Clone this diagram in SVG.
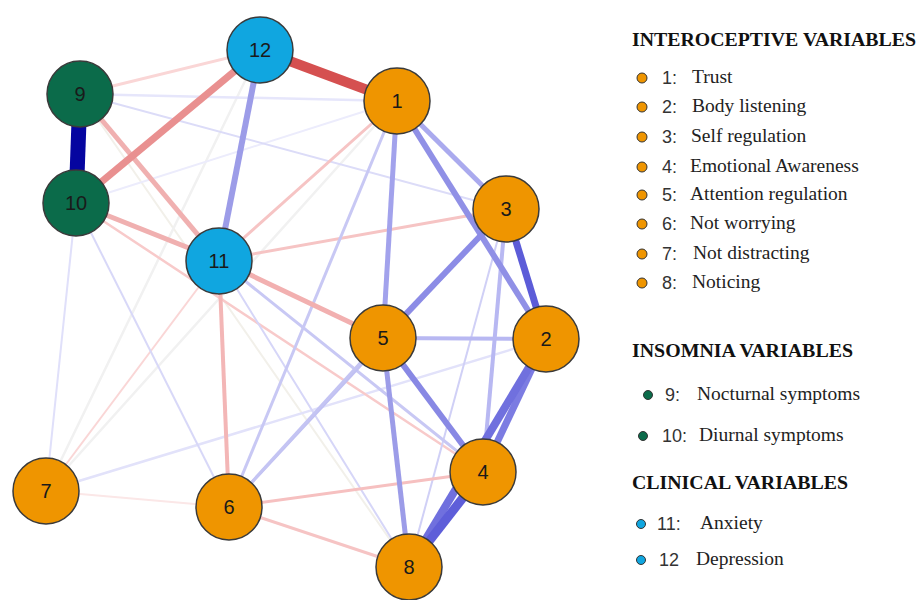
<svg xmlns="http://www.w3.org/2000/svg" width="919" height="600" viewBox="0 0 919 600">
<style>
.e{fill:none;stroke-linecap:butt}
.n circle{stroke:#3a3a3a;stroke-width:1.5}
.o{fill:#ef9500}
.g{fill:#0b6b4a}
.b{fill:#10a6e0}
.n text{font-family:"Liberation Sans",Arial,sans-serif;font-size:20px;fill:#1a1a1a;text-anchor:middle}
.t{font-family:"Liberation Serif","Times New Roman",serif;font-weight:bold;font-size:19px;fill:#111}
.num{font-family:"Liberation Sans",Arial,sans-serif;font-size:18px;fill:#333}
.lab{font-family:"Liberation Serif","Times New Roman",serif;font-size:19.5px;fill:#222}
.d{stroke:#333;stroke-width:1}
</style>
<rect width="919" height="600" fill="#fff"/>
<g id="connectors" class="e">
<line x1="80" y1="94" x2="409" y2="567" stroke="#f2f0ea" stroke-width="2"/>
<line x1="46" y1="491" x2="260" y2="50" stroke="#f1f1f1" stroke-width="2.5"/>
<line x1="46" y1="491" x2="397" y2="101" stroke="#f1f1f1" stroke-width="2.5"/>
<line x1="46" y1="491" x2="229" y2="507" stroke="#fbe7e7" stroke-width="2"/>
<line x1="76" y1="203" x2="397" y2="101" stroke="#ececfc" stroke-width="2"/>
<line x1="76" y1="203" x2="46" y2="491" stroke="#e0e0fa" stroke-width="2"/>
<line x1="46" y1="491" x2="546" y2="339" stroke="#e2e2fa" stroke-width="2.5"/>
<line x1="46" y1="491" x2="219" y2="260" stroke="#fad6d6" stroke-width="2"/>
<line x1="80" y1="94" x2="397" y2="101" stroke="#e6e6fb" stroke-width="2.5"/>
<line x1="80" y1="94" x2="506" y2="209" stroke="#dcdcf8" stroke-width="2"/>
<line x1="80" y1="94" x2="260" y2="50" stroke="#fad6d6" stroke-width="3"/>
<line x1="76" y1="203" x2="229" y2="507" stroke="#d8d8f8" stroke-width="2"/>
<line x1="76" y1="203" x2="483" y2="472" stroke="#f8caca" stroke-width="2.5"/>
<line x1="219" y1="260" x2="409" y2="567" stroke="#d6d6f8" stroke-width="2"/>
<line x1="506" y1="209" x2="409" y2="567" stroke="#d0d0f6" stroke-width="2"/>
<line x1="219" y1="260" x2="483" y2="472" stroke="#c8c8f4" stroke-width="3"/>
<line x1="219" y1="260" x2="397" y2="101" stroke="#f6c4c4" stroke-width="3"/>
<line x1="219" y1="260" x2="506" y2="209" stroke="#f6c4c4" stroke-width="3"/>
<line x1="397" y1="101" x2="229" y2="507" stroke="#c8c8f4" stroke-width="3"/>
<line x1="506" y1="209" x2="229" y2="507" stroke="#c0c0f2" stroke-width="3"/>
<line x1="383" y1="338" x2="229" y2="507" stroke="#c4c4f3" stroke-width="3"/>
<line x1="229" y1="507" x2="483" y2="472" stroke="#f6c0c0" stroke-width="3"/>
<line x1="229" y1="507" x2="409" y2="567" stroke="#f6c4c4" stroke-width="3"/>
<line x1="383" y1="338" x2="546" y2="339" stroke="#b8b8f2" stroke-width="4"/>
<line x1="506" y1="209" x2="483" y2="472" stroke="#b8b8f2" stroke-width="4"/>
<line x1="219" y1="260" x2="229" y2="507" stroke="#f3b6b6" stroke-width="4"/>
<line x1="80" y1="94" x2="219" y2="260" stroke="#f0b0b0" stroke-width="5"/>
<line x1="76" y1="203" x2="219" y2="260" stroke="#f0b0b0" stroke-width="5"/>
<line x1="219" y1="260" x2="383" y2="338" stroke="#f2b0b0" stroke-width="5"/>
<line x1="397" y1="101" x2="506" y2="209" stroke="#aaaaee" stroke-width="5"/>
<line x1="397" y1="101" x2="383" y2="338" stroke="#a2a2ec" stroke-width="5"/>
<line x1="383" y1="338" x2="409" y2="567" stroke="#9c9ce8" stroke-width="5"/>
<line x1="397" y1="101" x2="546" y2="339" stroke="#9090e6" stroke-width="6"/>
<line x1="260" y1="50" x2="219" y2="260" stroke="#9c9ce8" stroke-width="6"/>
<line x1="506" y1="209" x2="383" y2="338" stroke="#8c8ce6" stroke-width="6"/>
<line x1="383" y1="338" x2="483" y2="472" stroke="#8888e4" stroke-width="6"/>
<line x1="546" y1="339" x2="483" y2="472" stroke="#7c7ce2" stroke-width="7"/>
<line x1="546" y1="339" x2="409" y2="567" stroke="#7070de" stroke-width="8"/>
<line x1="483" y1="472" x2="409" y2="567" stroke="#5e5ed9" stroke-width="9"/>
<line x1="506" y1="209" x2="546" y2="339" stroke="#5c5cd8" stroke-width="7"/>
<line x1="260" y1="50" x2="76" y2="203" stroke="#e99090" stroke-width="7"/>
<line x1="260" y1="50" x2="397" y2="101" stroke="#d55050" stroke-width="10"/>
<line x1="80" y1="94" x2="76" y2="203" stroke="#0505a0" stroke-width="15"/>
</g>
<g id="node-1" class="n"><circle class="o" cx="397" cy="101" r="33"/><text x="397" y="108">1</text></g>
<g id="node-2" class="n"><circle class="o" cx="546" cy="339" r="33"/><text x="546" y="346">2</text></g>
<g id="node-3" class="n"><circle class="o" cx="506" cy="209" r="33"/><text x="506" y="216">3</text></g>
<g id="node-4" class="n"><circle class="o" cx="483" cy="472" r="33"/><text x="483" y="479">4</text></g>
<g id="node-5" class="n"><circle class="o" cx="383" cy="338" r="33"/><text x="383" y="345">5</text></g>
<g id="node-6" class="n"><circle class="o" cx="229" cy="507" r="33"/><text x="229" y="514">6</text></g>
<g id="node-7" class="n"><circle class="o" cx="46" cy="491" r="33"/><text x="46" y="498">7</text></g>
<g id="node-8" class="n"><circle class="o" cx="409" cy="567" r="33"/><text x="409" y="574">8</text></g>
<g id="node-9" class="n"><circle class="g" cx="80" cy="94" r="33"/><text x="80" y="101">9</text></g>
<g id="node-10" class="n"><circle class="g" cx="76" cy="203" r="33"/><text x="76" y="210">10</text></g>
<g id="node-11" class="n"><circle class="b" cx="219" cy="261" r="33"/><text x="219" y="268">11</text></g>
<g id="node-12" class="n"><circle class="b" cx="260" cy="50" r="33"/><text x="260" y="57">12</text></g>
<g id="legend">
<text class="t" x="632" y="46" textLength="284" lengthAdjust="spacingAndGlyphs">INTEROCEPTIVE VARIABLES</text>
<circle class="d o" cx="642" cy="78" r="5"/><text class="num" x="662" y="84">1:</text><text class="lab" x="692" y="83">Trust</text>
<circle class="d o" cx="642" cy="107" r="5"/><text class="num" x="662" y="113">2:</text><text class="lab" x="692" y="112">Body listening</text>
<circle class="d o" cx="642" cy="137" r="5"/><text class="num" x="662" y="143">3:</text><text class="lab" x="691" y="142">Self regulation</text>
<circle class="d o" cx="642" cy="167" r="5"/><text class="num" x="662" y="173">4:</text><text class="lab" x="690" y="172">Emotional Awareness</text>
<circle class="d o" cx="642" cy="195" r="5"/><text class="num" x="662" y="201">5:</text><text class="lab" x="690" y="200">Attention regulation</text>
<circle class="d o" cx="642" cy="224" r="5"/><text class="num" x="662" y="230">6:</text><text class="lab" x="690" y="229">Not worrying</text>
<circle class="d o" cx="642" cy="254" r="5"/><text class="num" x="662" y="260">7:</text><text class="lab" x="693" y="259">Not distracting</text>
<circle class="d o" cx="642" cy="283" r="5"/><text class="num" x="662" y="289">8:</text><text class="lab" x="692" y="288">Noticing</text>
<text class="t" x="632" y="357" textLength="221" lengthAdjust="spacingAndGlyphs">INSOMNIA VARIABLES</text>
<circle class="d g" cx="648" cy="395" r="4.5"/><text class="num" x="665" y="401">9:</text><text class="lab" x="697" y="400">Nocturnal symptoms</text>
<circle class="d g" cx="643" cy="436" r="4.5"/><text class="num" x="662" y="442">10:</text><text class="lab" x="699" y="441">Diurnal symptoms</text>
<text class="t" x="632" y="489" textLength="216" lengthAdjust="spacingAndGlyphs">CLINICAL VARIABLES</text>
<circle class="d b" cx="641" cy="524" r="4.5"/><text class="num" x="657" y="530">11:</text><text class="lab" x="700" y="529">Anxiety</text>
<circle class="d b" cx="641" cy="560" r="4.5"/><text class="num" x="659" y="566">12</text><text class="lab" x="696" y="565">Depression</text>
</g>
</svg>
